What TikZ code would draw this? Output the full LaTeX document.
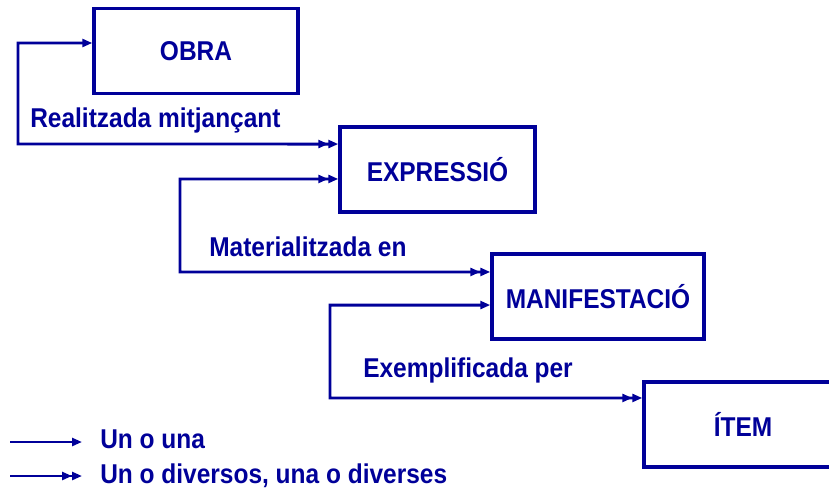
\documentclass[tikz,border=0pt]{standalone}
\usepackage{fontspec}
\setmainfont{Liberation Sans}[FakeStretch=0.9]
\usepackage{xcolor}
\definecolor{mnavy}{HTML}{000099}
\usepackage{tikz}
\usetikzlibrary{arrows.meta}

\begin{document}
\begin{tikzpicture}[x=0.75pt, y=-0.75pt,
    every node/.style={font=\bfseries\fontsize{20.4}{22}\selectfont, text=mnavy, inner sep=0pt},
    entity/.style={draw=mnavy, line width=2.6pt, minimum height=63.75pt},
    link/.style={mnavy, line width=2.2pt},
    one/.style={-{Triangle[length=7.5pt,width=6pt]}},
    many/.style={-{Triangle[length=7.5pt,width=6pt]Triangle[length=7.5pt,width=6pt]}},
    onemany/.style={{Triangle[length=7.5pt,width=6pt]}-{Triangle[length=7.5pt,width=6pt]Triangle[length=7.5pt,width=6pt]}},
    manymany/.style={{Triangle[length=7.5pt,width=6pt]Triangle[length=7.5pt,width=6pt]}-{Triangle[length=7.5pt,width=6pt]Triangle[length=7.5pt,width=6pt]}}]

            \clip (0, 0) rectangle (829, 490);

            \node[entity, minimum width=153pt] (obra) at (196, 51) {OBRA};
            \node[entity, minimum width=146.25pt] (expr) at (437.5, 169.5) {EXPRESSIÓ};
            \node[entity, minimum width=159pt] (mani) at (598, 296.5) {MANIFESTACIÓ};
            \node[entity, minimum width=148.5pt] (item) at (743, 424.5) {ÍTEM};

            \coordinate (rail1) at (18, 144);
            \coordinate (rail2) at (180, 272);
            \coordinate (rail3) at (330, 398);

            \draw[link, onemany] ([yshift=6pt]obra.west) -| (rail1) -- ([yshift=19.1pt]expr.west);
            \draw[link, manymany] ([yshift=-7.1pt]expr.west) -| (rail2) -- ([yshift=18.4pt]mani.west);
            \draw[link, onemany] ([yshift=-6.4pt]mani.west) -| (rail3) -- ([yshift=19.9pt]item.west);

            \node[anchor=base west] (lblreal) at (30, 127) {Realitzada mitjançant};
            \node[anchor=base west] (lblmat) at (209, 256) {Materialitzada en};
            \node[anchor=base west] (lblexem) at (363, 377) {Exemplificada per};

            \draw[link, one] (10, 442) coordinate (keyonea) -- (82, 442) coordinate (keyoneb);
            \node[anchor=base west] (keyone) at (100, 448) {Un o una};
            \draw[link, many] (10, 476) coordinate (keymanya) -- (82, 476) coordinate (keymanyb);
            \node[anchor=base west] (keymany) at (100, 483) {Un o diversos, una o diverses};

          \end{tikzpicture}
\end{document}
